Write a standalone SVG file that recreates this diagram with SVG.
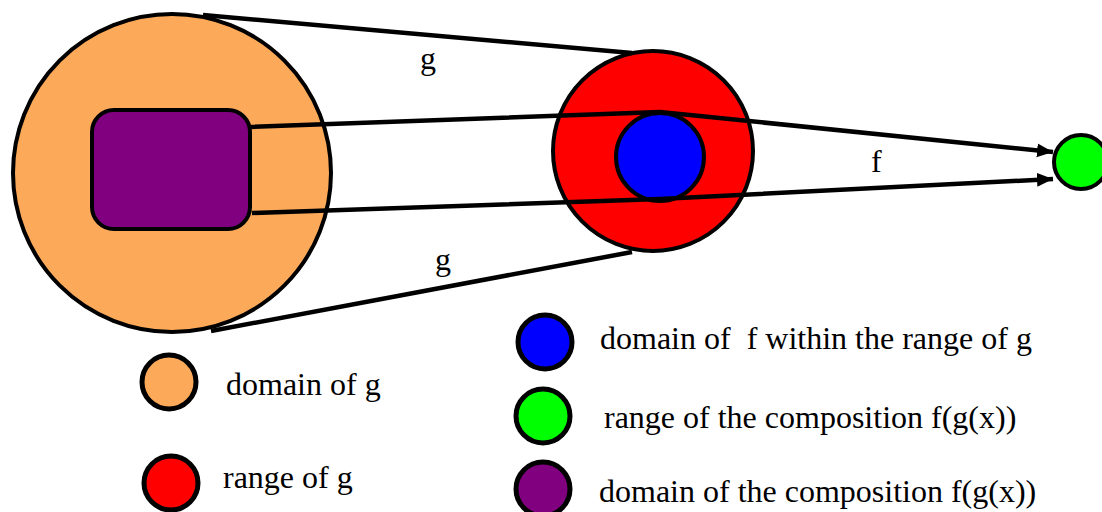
<svg xmlns="http://www.w3.org/2000/svg" width="1102" height="512" viewBox="0 0 1102 512">
<style>
.txt{font-family:"Liberation Serif","Times New Roman",serif;font-size:32px;fill:#000;white-space:pre}
.big{stroke:#000;stroke-width:4}
.leg{stroke:#000;stroke-width:5}
.conn{fill:none;stroke:#000;stroke-width:4.5;stroke-linejoin:round}
</style>
<defs>
<marker id="arrow" markerUnits="userSpaceOnUse" markerWidth="18" markerHeight="16" refX="16" refY="7" orient="auto">
<path d="M0,0 L16,7 L0,14 z" fill="#000"/>
</marker>
</defs>
<rect width="1102" height="512" fill="#fff"/>
<g id="domain-g">
<circle cx="172" cy="173" r="159" fill="#FCAA59" class="big"/>
</g>
<g id="domain-composition">
<rect x="92" y="110" width="158" height="119" rx="22" fill="#800080" class="big"/>
</g>
<g id="range-g">
<circle cx="653" cy="151" r="100" fill="#FF0000" class="big"/>
</g>
<g id="domain-f">
<circle cx="660" cy="157" r="44" fill="#0000FF" class="big"/>
</g>
<g id="range-composition">
<circle cx="1081" cy="162" r="27" fill="#00FF00" class="big"/>
</g>
<g id="connectors">
<line x1="203" y1="15" x2="632" y2="53" class="conn"/>
<line x1="211" y1="331" x2="632" y2="252" class="conn"/>
<polyline points="250,127 660,112 1053,152" class="conn" marker-end="url(#arrow)"/>
<polyline points="252,213 660,199 1053,179" class="conn" marker-end="url(#arrow)"/>
<text x="420" y="69" class="txt">g</text>
<text x="435" y="270" class="txt">g</text>
<text x="871" y="172" class="txt">f</text>
</g>
<g id="legend">
<g id="legend-domain-g">
<circle cx="169" cy="382" r="27" fill="#FCAA59" class="leg"/>
<text x="226" y="395" class="txt">domain of g</text>
</g>
<g id="legend-range-g">
<circle cx="171" cy="483" r="27" fill="#FF0000" class="leg"/>
<text x="223" y="488" class="txt">range of g</text>
</g>
<g id="legend-domain-f">
<circle cx="545" cy="342" r="27" fill="#0000FF" class="leg"/>
<text x="600" y="349" class="txt">domain of  f within the range of g</text>
</g>
<g id="legend-range-composition">
<circle cx="543" cy="416" r="27" fill="#00FF00" class="leg"/>
<text x="604" y="428" class="txt">range of the composition f(g(x))</text>
</g>
<g id="legend-domain-composition">
<circle cx="543" cy="489" r="27" fill="#800080" class="leg"/>
<text x="599" y="502" class="txt">domain of the composition f(g(x))</text>
</g>
</g>
</svg>
